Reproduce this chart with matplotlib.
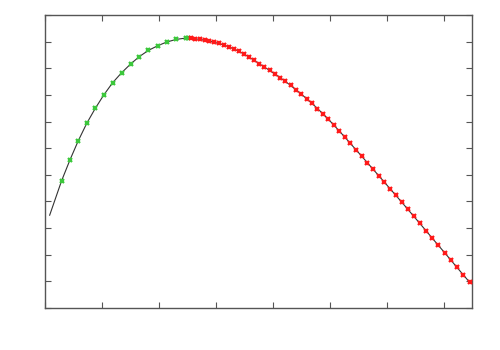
import matplotlib
matplotlib.use('Agg')
import matplotlib.pyplot as plt
from matplotlib.ticker import MultipleLocator

# start of the curve (before the first marker)
start_x = [0.082]
start_y = [3.485]

# rising part (green markers)
rise_x = [0.293, 0.439, 0.584, 0.732, 0.882, 1.035, 1.188, 1.346, 1.504, 1.654,
          1.816, 1.982, 2.140, 2.307, 2.470, 2.514]
rise_y = [4.786, 5.564, 6.278, 6.929, 7.492, 8.008, 8.459, 8.835, 9.162, 9.436,
          9.673, 9.850, 9.989, 10.086, 10.135, 10.139]

# falling part (red markers)
fall_x = [2.558, 2.639, 2.719, 2.802, 2.884, 2.970, 3.056, 3.142, 3.230, 3.318,
          3.405, 3.495, 3.584, 3.674, 3.763, 3.853, 3.944, 4.035, 4.128, 4.221,
          4.314, 4.407, 4.502, 4.596, 4.691, 4.786, 4.881, 4.977, 5.074, 5.170,
          5.267, 5.365, 5.463, 5.561, 5.661, 5.761, 5.861, 5.961, 6.061, 6.163,
          6.267, 6.372, 6.477, 6.582, 6.689, 6.798, 6.907, 7.018, 7.126, 7.237,
          7.347, 7.460]
fall_y = [10.128, 10.107, 10.086, 10.055, 10.023, 9.977, 9.932, 9.872, 9.808, 9.726,
          9.639, 9.534, 9.421, 9.297, 9.173, 9.049, 8.921, 8.789, 8.654, 8.508,
          8.357, 8.195, 8.030, 7.859, 7.680, 7.489, 7.293, 7.086, 6.868, 6.643,
          6.414, 6.177, 5.940, 5.703, 5.459, 5.214, 4.970, 4.726, 4.477, 4.229,
          3.970, 3.707, 3.444, 3.180, 2.910, 2.632, 2.357, 2.079, 1.805, 1.523,
          1.244, 0.962]

fig = plt.figure(figsize=(5, 3.5), dpi=100)
ax = fig.add_axes([0.09, 0.12, 0.854, 0.837])

ax.plot(start_x + rise_x + fall_x, start_y + rise_y + fall_y,
        color='#333333', lw=0.8, zorder=2)
ax.plot(rise_x, rise_y, ls='none', marker='x', ms=3.5, mew=1.6,
        color='#3cc83c', zorder=3)
ax.plot(fall_x, fall_y, ls='none', marker='x', ms=3.5, mew=1.6,
        color='#ff1a1a', zorder=3, clip_on=False)

ax.set_xlim(0, 7.5)
ax.set_ylim(0, 11)
ax.xaxis.set_major_locator(MultipleLocator(1))
ax.yaxis.set_major_locator(MultipleLocator(1))
ax.tick_params(direction='in', length=4, width=0.8, color='#555555',
               top=True, right=True, labelbottom=False, labelleft=False)
for sp in ax.spines.values():
    sp.set_color('#555555')
    sp.set_linewidth(1.0)

fig.savefig('out.png', dpi=100)
